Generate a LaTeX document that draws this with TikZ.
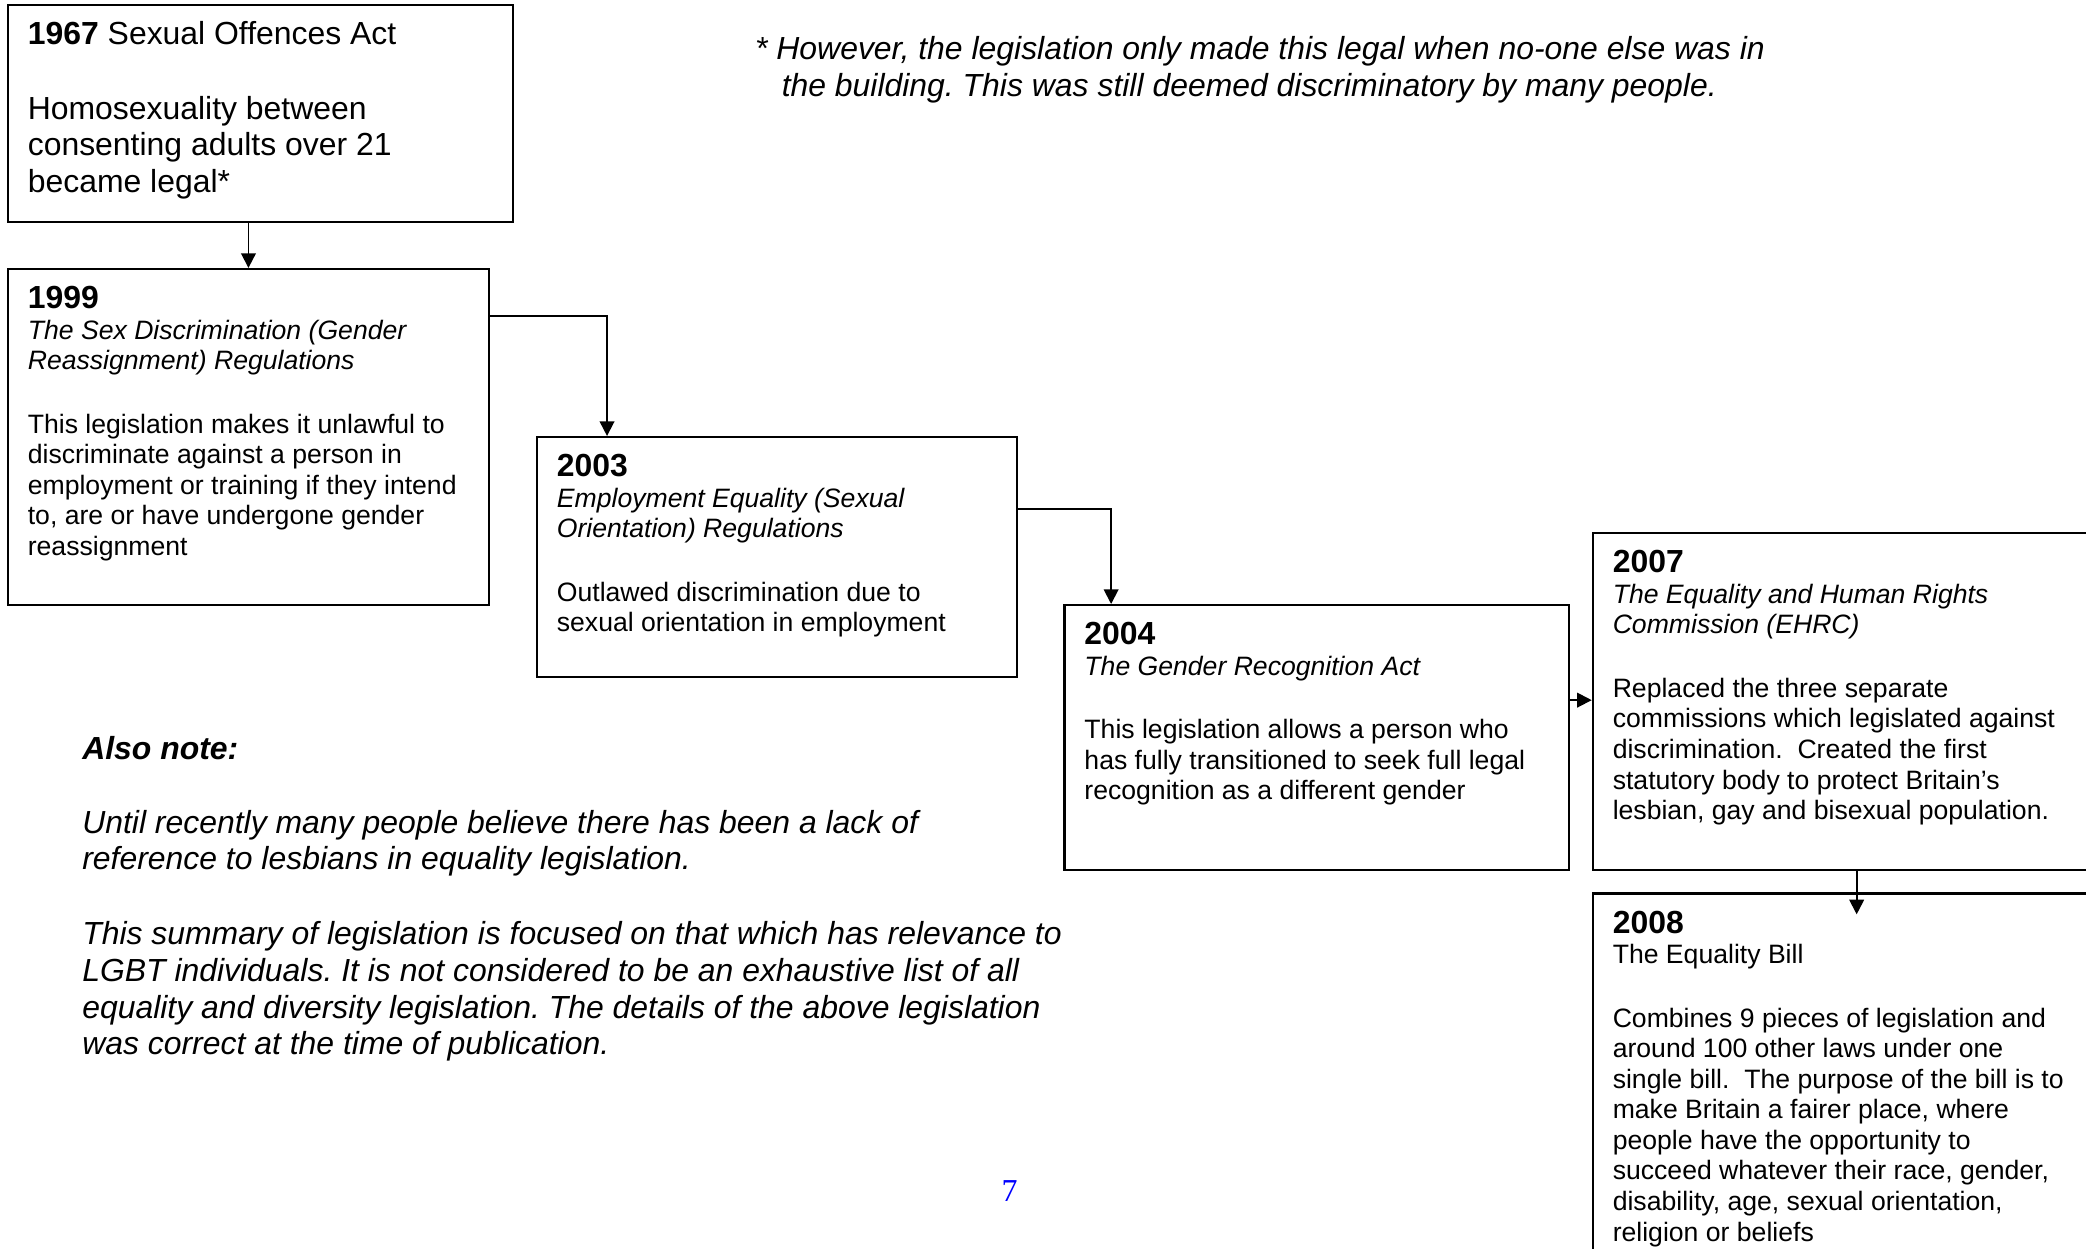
\documentclass[tikz,border=0pt]{standalone}
\usepackage{fontspec}
\setmainfont{Liberation Sans}
\newfontfamily\pagenumfont{Liberation Serif}
\usepackage{xcolor}
\usepackage{tikz}
\usetikzlibrary{positioning,calc,arrows.meta}
\frenchspacing
\def\yr#1{{\fontsize{12}{13.8}\selectfont\bfseries #1}}
\newcommand{\legtext}[3]{\parbox[t][#1][t]{#2}{\rule{0pt}{10pt}#3}}
\tikzset{
  legbox/.style={draw, line width=0.8pt, anchor=north west, inner xsep=7.5pt, inner ysep=4.9pt,
    font=\fontsize{10}{11.5}\selectfont},
  link/.style={line width=0.7pt, -{Triangle[length=5.5pt,width=5.5pt]}},
  notetext/.style={anchor=north west, inner sep=0pt, align=left, font=\fontsize{12}{13.8}\selectfont\itshape}
}

\begin{document}
\begin{tikzpicture}[scale=1]

\useasboundingbox (0,0) rectangle (27.56,-16.50);
\clip (0,0) rectangle (27.56,-16.50);

% the boxes
\node[legbox, font=\fontsize{12}{13.8}\selectfont] (b1967) at (0.09,-0.05) {\legtext{2.52cm}{6.15cm}{%
\textbf{1967} Sexual Offences Act\\[14.3pt]
Homosexuality between\\
consenting adults over 21\\
became legal*}};

\node[legbox] (b1999) at (0.09,-3.54) {\legtext{4.10cm}{5.83cm}{%
\yr{1999}\\
\textit{The Sex Discrimination (Gender}\\
\textit{Reassignment) Regulations}\\[12.3pt]
This legislation makes it unlawful to\\
discriminate against a person in\\
employment or training if they intend\\
to, are or have undergone gender\\
reassignment}};

\node[legbox] (b2003) at (7.08,-5.76) {\legtext{2.83cm}{5.82cm}{%
\yr{2003}\\
\textit{Employment Equality (Sexual}\\
\textit{Orientation) Regulations}\\[12.3pt]
Outlawed discrimination due to\\
sexual orientation in employment}};

\node[legbox] (b2004) at (14.05,-7.98) {\legtext{3.15cm}{6.14cm}{%
\yr{2004}\\
\textit{The Gender Recognition Act}\\[12.3pt]
This legislation allows a person who\\
has fully transitioned to seek full legal\\
recognition as a different gender}};

\node[legbox] (b2007) at (21.03,-7.03) {\legtext{4.10cm}{6.31cm}{%
\yr{2007}\\
\textit{The Equality and Human Rights}\\
\textit{Commission (EHRC)}\\[12.3pt]
Replaced the three separate\\
commissions which legislated against\\
discrimination.\ \ Created the first\\
statutory body to protect Britain’s\\
lesbian, gay and bisexual population.}};

\node[legbox] (b2008) at (21.03,-11.79) {\legtext{5.66cm}{6.31cm}{%
\yr{2008}\\
The Equality Bill\\[12.3pt]
Combines 9 pieces of legislation and\\
around 100 other laws under one\\
single bill.\ \ The purpose of the bill is to\\
make Britain a fairer place, where\\
people have the opportunity to\\
succeed whatever their race, gender,\\
disability, age, sexual orientation,\\
religion or beliefs}};

% the arrows
\coordinate (a0407) at ([yshift=-1.27cm]b2004.north east);
\coordinate (tip) at ([xshift=3.5cm,yshift=-0.29cm]b2008.north west);

\draw[link] (b1967.south -| b1999.north) -- (b1999.north);
\draw[link] ([yshift=-0.63cm]b1999.north east) -| ([xshift=0.94cm]b2003.north west);
\draw[link] ([yshift=-0.96cm]b2003.north east) -| ([xshift=0.63cm]b2004.north west);
\draw[link] (a0407) -- (a0407 -| b2007.west);
\draw[link] (tip |- b2007.south) -- (tip);

% notes
\node[notetext] (footnote) at (9.97,-0.43) {\rule{0pt}{10pt}* However, the legislation only made this legal when no-one else was in\\
\hspace*{10pt}the building. This was still deemed discriminatory by many people.};

\node[notetext] (alsonote) at (1.08,-9.68) {\rule{0pt}{10pt}\textbf{Also note:}\\[13.8pt]
Until recently many people believe there has been a lack of\\
reference to lesbians in equality legislation.\\[14.3pt]
This summary of legislation is focused on that which has relevance to\\
LGBT individuals. It is not considered to be an exhaustive list of all\\
equality and diversity legislation. The details of the above legislation\\
was correct at the time of publication.};

\node[anchor=base, text=blue, font=\fontsize{12}{13.8}\pagenumfont] (pagenum) at (13.34,-15.88) {7};

\end{tikzpicture}
\end{document}
